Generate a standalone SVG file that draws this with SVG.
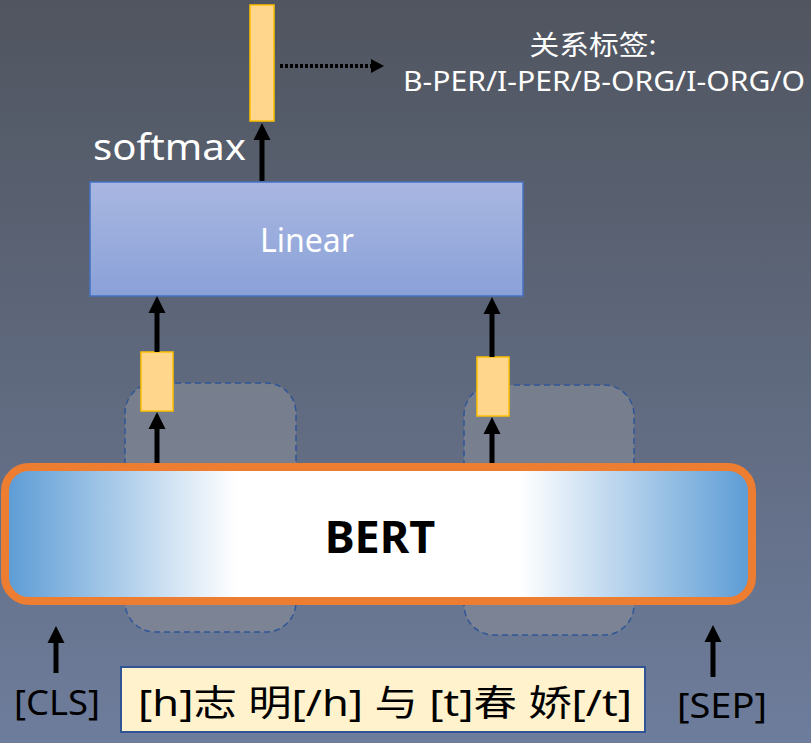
<svg xmlns="http://www.w3.org/2000/svg" width="811" height="743" viewBox="0 0 811 743">
<defs>
<linearGradient id="bg" x1="0" y1="0" x2="0" y2="1">
<stop offset="0" stop-color="#50555f"/>
<stop offset="1" stop-color="#6e7d9c"/>
</linearGradient>
<linearGradient id="lin" x1="0" y1="0" x2="0" y2="1">
<stop offset="0" stop-color="#a9b7e1"/>
<stop offset="1" stop-color="#8aa1d8"/>
</linearGradient>
<linearGradient id="bert" x1="0" y1="0" x2="1" y2="0">
<stop offset="0" stop-color="#5b9bd5"/>
<stop offset="0.31" stop-color="#ffffff"/>
<stop offset="0.69" stop-color="#ffffff"/>
<stop offset="1" stop-color="#5b9bd5"/>
</linearGradient>
<path id="head" d="M-8.5,17 L0,0 L8.5,17 z" fill="#000"/>
<style>
.vec{fill:#ffd68c;stroke:#ffc000;stroke-width:1.5}
.arr{stroke:#000;stroke-width:5;fill:none}
.dash{fill:#8a8e98;fill-opacity:0.55;stroke:#2f5597;stroke-width:1.5;stroke-dasharray:6 4}
.wt{fill:#ffffff;font-family:"Noto Sans","Noto Sans CJK SC",sans-serif}
.bt{fill:#000;font-family:"Noto Sans","Noto Sans CJK SC",sans-serif}
</style>
</defs>
<rect width="811" height="743" fill="url(#bg)"/>
<g id="context1"><rect class="dash" x="125" y="383" width="171" height="249" rx="30"/></g>
<g id="context2"><rect class="dash" x="464" y="385" width="170" height="250" rx="30"/></g>
<g id="output-vec"><rect class="vec" x="250" y="5" width="24" height="116"/></g>
<g id="label-text">
<text class="wt" x="593" y="55" font-size="27" text-anchor="middle" textLength="127" lengthAdjust="spacingAndGlyphs">关系标签:</text>
<text class="wt" x="403" y="91" font-size="27" textLength="402" lengthAdjust="spacingAndGlyphs">B-PER/I-PER/B-ORG/I-ORG/O</text>
</g>
<g id="softmax-label"><text class="wt" x="93" y="160" font-size="37" textLength="153" lengthAdjust="spacingAndGlyphs">softmax</text></g>
<g id="linear">
<rect x="90" y="182" width="433" height="114" fill="url(#lin)" stroke="#4472c4" stroke-width="1.5"/>
<text class="wt" x="307" y="252" font-size="32" text-anchor="middle">Linear</text>
</g>
<g id="vec1"><rect class="vec" x="141" y="352" width="32" height="59"/></g>
<g id="vec2"><rect class="vec" x="477" y="357" width="32" height="59"/></g>
<g id="bert-node">
<rect x="5" y="467" width="747" height="134" rx="24" fill="url(#bert)" stroke="#ed7d31" stroke-width="8"/>
<text x="380" y="553" font-size="45" font-weight="bold" text-anchor="middle" font-family="'Noto Sans','Liberation Sans',sans-serif" fill="#000">BERT</text>
</g>
<g id="cls"><text class="bt" x="14" y="715" font-size="35" textLength="86" lengthAdjust="spacingAndGlyphs">[CLS]</text></g>
<g id="sep"><text class="bt" x="677" y="718" font-size="35" textLength="90" lengthAdjust="spacingAndGlyphs">[SEP]</text></g>
<g id="input">
<rect x="121" y="667" width="524" height="65" fill="#fff2cc" stroke="#2f5597" stroke-width="2"/>
<text class="bt" x="138" y="716" font-size="36" textLength="494" lengthAdjust="spacingAndGlyphs">[h]志 明[/h] 与 [t]春 娇[/t]</text>
</g>
<g id="connectors">
<line class="arr" x1="262" y1="181" x2="262" y2="135"/>
<use href="#head" x="262" y="123"/>
<line x1="280" y1="66" x2="372" y2="66" stroke="#000" stroke-width="4" stroke-dasharray="3 2"/>
<path d="M371,59 L384,66 L371,73 z" fill="#000"/>
<line class="arr" x1="157" y1="352" x2="157" y2="308"/>
<use href="#head" x="157" y="296"/>
<line class="arr" x1="492" y1="357" x2="492" y2="309"/>
<use href="#head" x="492" y="297"/>
<line class="arr" x1="157" y1="463" x2="157" y2="424"/>
<use href="#head" x="157" y="412"/>
<line class="arr" x1="492" y1="463" x2="492" y2="429"/>
<use href="#head" x="492" y="417"/>
<line class="arr" x1="56" y1="673" x2="56" y2="638"/>
<use href="#head" x="56" y="626"/>
<line class="arr" x1="713" y1="677" x2="713" y2="637"/>
<use href="#head" x="713" y="625"/>
</g>
</svg>
